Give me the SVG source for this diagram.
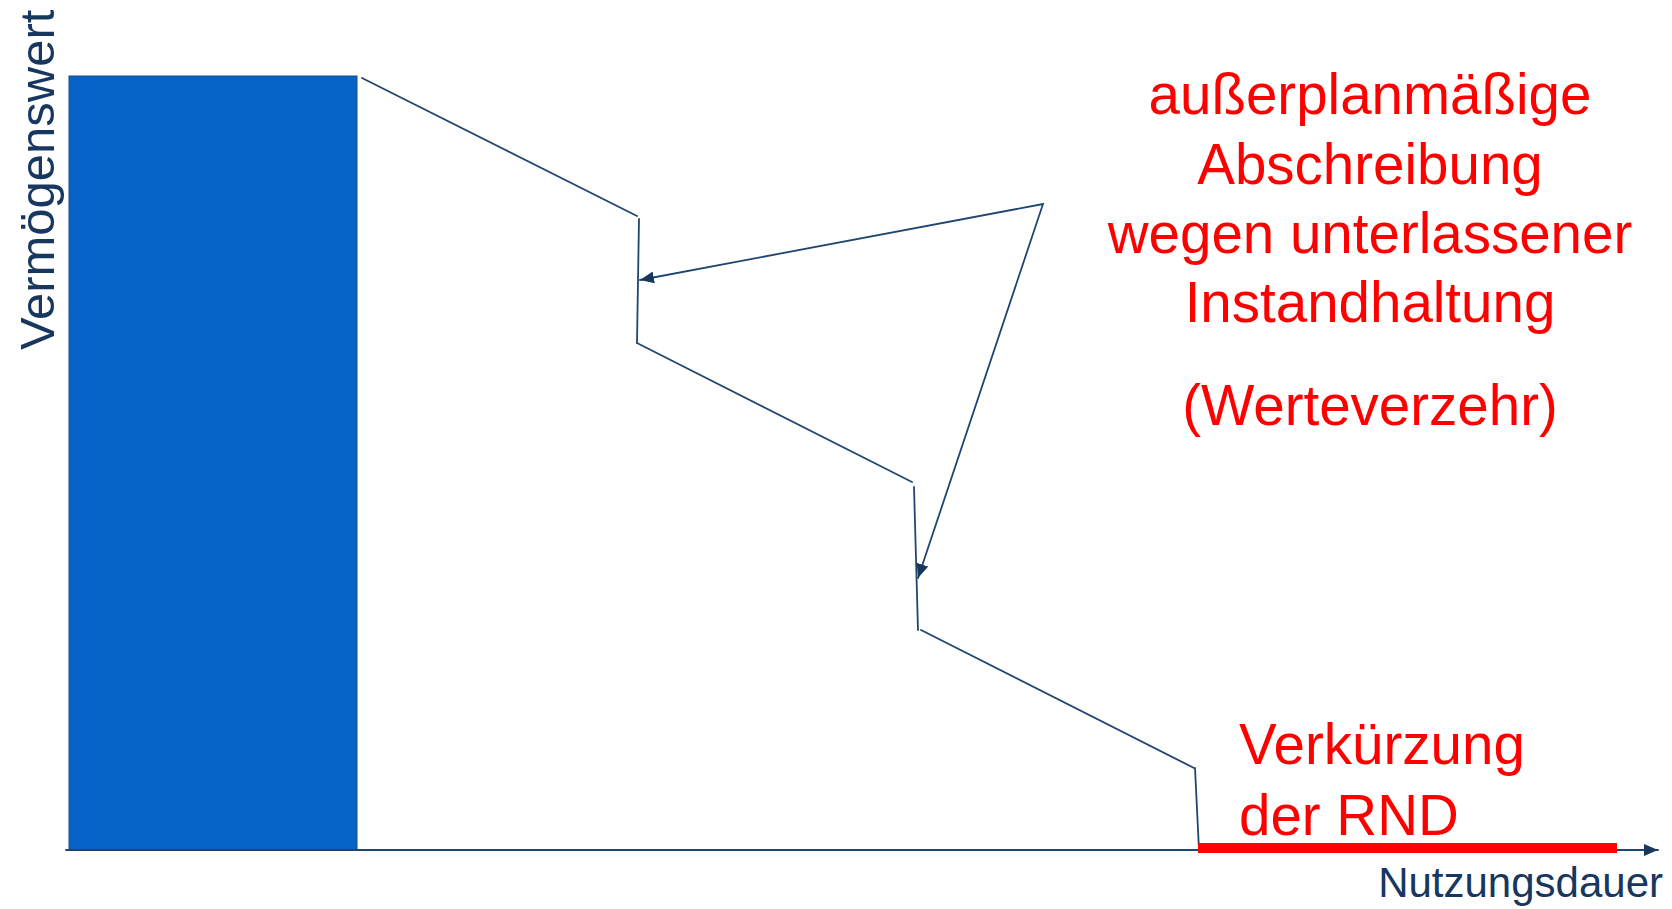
<svg xmlns="http://www.w3.org/2000/svg" width="1672" height="909" viewBox="0 0 1672 909">
<style>
.navy{fill:#17375E;font-family:"Liberation Sans",Arial,sans-serif}
.red{fill:#FF0000;font-family:"Liberation Sans",Arial,sans-serif;font-size:56.5px}
.ln{stroke:#1F4670;stroke-width:1.8;fill:none;stroke-linecap:round}
</style>
<defs>
<marker id="ah" markerUnits="userSpaceOnUse" markerWidth="16" markerHeight="12" refX="14" refY="6" orient="auto-start-reverse">
<path d="M0,0 L14,6 L0,12 Z" fill="#17375E"/>
</marker>
</defs>
<rect width="1672" height="909" fill="#FFFFFF"/>
<g id="bar">
<rect x="69" y="76" width="288" height="774" fill="#0563C7" stroke="#1F4E79" stroke-width="1"/>
</g>
<g id="connectors">
<line class="ln" x1="66" y1="850" x2="1658" y2="850" stroke-width="2" marker-end="url(#ah)"/>
<line class="ln" x1="362" y1="78" x2="637" y2="216"/>
<line class="ln" x1="639" y1="219" x2="637" y2="343"/>
<line class="ln" x1="637" y1="343" x2="912" y2="482"/>
<line class="ln" x1="914" y1="487" x2="918" y2="630"/>
<line class="ln" x1="921" y1="630" x2="1194" y2="768"/>
<line class="ln" x1="1195" y1="768" x2="1199" y2="850"/>
<path class="ln" d="M640,280 L1043,204 L918,578" marker-start="url(#ah)" marker-end="url(#ah)"/>
</g>
<g id="rnd-bar">
<rect x="1198" y="843" width="419" height="10" fill="#FF0000"/>
</g>
<g id="y-label">
<text class="navy" font-size="49" transform="translate(54,350) rotate(-90)">Vermögenswert</text>
</g>
<g id="x-label">
<text class="navy" font-size="42" x="1663" y="897" text-anchor="end">Nutzungsdauer</text>
</g>
<g id="annotation">
<text class="red" text-anchor="middle" x="1370" y="114">außerplanmäßige</text>
<text class="red" text-anchor="middle" x="1370" y="184">Abschreibung</text>
<text class="red" text-anchor="middle" x="1370" y="253">wegen unterlassener</text>
<text class="red" text-anchor="middle" x="1370" y="322">Instandhaltung</text>
<text class="red" text-anchor="middle" x="1370" y="425">(Werteverzehr)</text>
</g>
<g id="rnd-label">
<text class="red" x="1239" y="764">Verkürzung</text>
<text class="red" x="1239" y="835">der RND</text>
</g>
</svg>
